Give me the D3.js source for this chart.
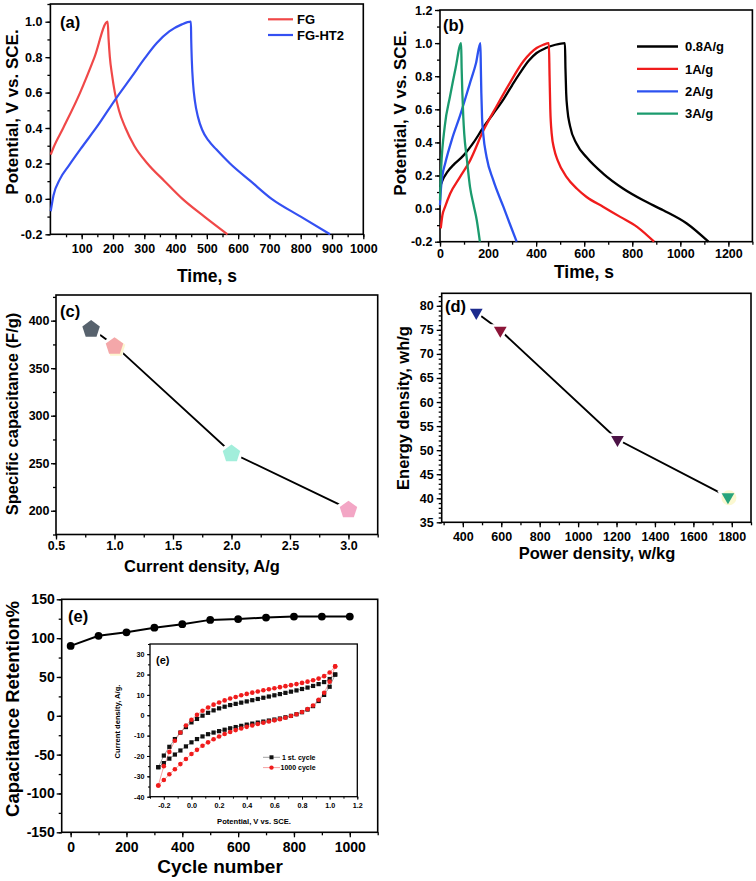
<!DOCTYPE html>
<html><head><meta charset="utf-8">
<script src="https://cdn.jsdelivr.net/npm/d3@7/dist/d3.min.js"></script>
<style>body{margin:0;background:#fff}</style>
</head><body>
<svg id="c" width="756" height="881"></svg>
<script>
// ---------------- DATA ----------------
// (a) charge/discharge, FG and FG-HT2
const aFG_t   = [1, 10, 41, 95, 141, 183, 186, 190, 197, 206, 219, 240, 268, 310, 365, 422, 492, 566];
const aFG_v   = [0.25, 0.29, 0.40, 0.60, 0.80, 1.00, 0.90, 0.80, 0.70, 0.60, 0.50, 0.40, 0.30, 0.20, 0.10, 0.00, -0.10, -0.20];
const aHT2_t  = [1, 10, 30, 60, 100, 150, 209, 260, 300, 340, 380, 420, 449, 450, 452, 456, 462, 472, 485, 505, 530, 574, 640, 707, 800, 894];
const aHT2_v  = [-0.07, 0.02, 0.11, 0.19, 0.29, 0.41, 0.565, 0.69, 0.79, 0.88, 0.945, 0.985, 1.00, 0.90, 0.78, 0.65, 0.55, 0.46, 0.39, 0.33, 0.28, 0.20, 0.10, 0.00, -0.10, -0.20];
const aSeries = ["FG", "FG-HT2"];
// (b) charge/discharge at different current densities
const bSeries = ["0.8A/g", "1A/g", "2A/g", "3A/g"];
const b08_t = [0, 10, 30, 60, 97, 140, 180, 220, 264, 300, 333, 370, 402, 440, 480, 520, 522, 525, 530, 541, 569, 610, 680, 763, 846, 929, 1027, 1117];
const b08_v = [0.13, 0.17, 0.22, 0.27, 0.32, 0.40, 0.49, 0.57, 0.66, 0.745, 0.82, 0.895, 0.94, 0.97, 0.99, 1.00, 0.85, 0.70, 0.60, 0.50, 0.39, 0.31, 0.21, 0.12, 0.05, -0.01, -0.09, -0.20];
const b1_t  = [3, 10, 21, 42, 83, 125, 180, 236, 291, 347, 402, 430, 453, 456, 459, 465, 475, 490, 527, 570, 610, 680, 750, 820, 891];
const b1_v  = [-0.12, -0.04, 0.01, 0.09, 0.19, 0.29, 0.47, 0.62, 0.76, 0.89, 0.97, 0.99, 1.00, 0.80, 0.60, 0.45, 0.36, 0.29, 0.19, 0.12, 0.07, 0.01, -0.05, -0.11, -0.20];
const b2_t  = [0, 4, 10, 21, 50, 83, 125, 150, 168, 170, 172, 175, 180, 194, 222, 264, 290, 319];
const b2_v  = [0.02, 0.12, 0.20, 0.27, 0.42, 0.56, 0.76, 0.88, 1.00, 0.85, 0.70, 0.55, 0.45, 0.31, 0.17, 0.01, -0.09, -0.20];
const b3_t  = [0, 2, 5, 20, 42, 65, 88, 90, 93, 97, 101, 111, 125, 140, 153, 166];
const b3_v  = [0.05, 0.15, 0.25, 0.50, 0.68, 0.85, 1.00, 0.85, 0.70, 0.55, 0.45, 0.31, 0.13, 0.02, -0.07, -0.20];
// (c) specific capacitance
const cCurrent = [0.8, 1.0, 2.0, 3.0];
const cCap     = [392, 374, 261, 202];
// (d) Ragone
const dPower  = [470, 595, 1205, 1780];
const dEnergy = [78.6, 74.9, 52.2, 40.3];
// (e) cycling
const eCycle  = [0, 100, 200, 300, 400, 500, 600, 700, 800, 900, 1000];
const eRet    = [90, 103, 107.5, 113.5, 118, 123.5, 124.5, 126.5, 127.8, 127.8, 127.8];
// (e) inset CV
const insetSeries = ["1 st. cycle", "1000 cycle"];
const cvV = [-0.24,-0.20,-0.16,-0.12,-0.08,-0.04,0.00,0.04,0.08,0.12,0.16,0.20,0.24,0.28,0.32,0.36,0.40,0.44,0.48,0.52,0.56,0.60,0.64,0.68,0.72,0.76,0.80,0.84,0.88,0.92,0.96,1.00,1.04];
const cv1Up   = [-25.5,-19.8,-15.5,-11.7,-8.5,-5.8,-3.5,-1.8,-0.2,1.2,2.4,3.4,4.2,5.0,5.6,6.2,6.8,7.4,8.0,8.6,9.2,9.8,10.4,11.0,11.6,12.2,12.9,13.6,14.4,15.3,16.3,17.8,20.0];
const cv1Down = [-25.5,-23.5,-21.3,-19.3,-17.3,-15.3,-13.3,-11.7,-10.4,-9.3,-8.5,-7.8,-7.1,-6.4,-5.8,-5.2,-4.6,-4.1,-3.6,-3.1,-2.6,-2.1,-1.6,-1.0,-0.3,0.5,1.5,2.8,4.5,7.0,10.0,14.0,20.0];
const cv1000Up   = [-34.5,-25.0,-18.0,-12.5,-8.5,-5.0,-2.2,0.2,2.2,3.8,5.2,6.3,7.3,8.2,9.0,9.8,10.5,11.1,11.7,12.3,12.8,13.3,13.8,14.3,14.8,15.3,15.9,16.5,17.2,18.0,19.2,21.0,24.0];
const cv1000Down = [-34.5,-31.8,-29.0,-26.5,-24.0,-21.5,-19.0,-17.0,-15.0,-13.3,-11.8,-10.4,-9.2,-8.2,-7.3,-6.5,-5.7,-5.0,-4.3,-3.7,-3.1,-2.5,-1.9,-1.2,-0.4,0.5,1.6,3.0,4.8,7.6,11.0,16.5,24.0];

// tick label lists
const aXTicks = [100,200,300,400,500,600,700,800,900,1000];
const aYTicks = [-0.2,0.0,0.2,0.4,0.6,0.8,1.0];
const bXTicks = [0,200,400,600,800,1000,1200];
const bYTicks = [-0.2,0.0,0.2,0.4,0.6,0.8,1.0,1.2];
const cXTicks = [0.5,1.0,1.5,2.0,2.5,3.0];
const cYTicks = [200,250,300,350,400];
const dXTicks = [400,600,800,1000,1200,1400,1600,1800];
const dYTicks = [35,40,45,50,55,60,65,70,75,80];
const eXTicks = [0,200,400,600,800,1000];
const eYTicks = [-150,-100,-50,0,50,100,150];
const iXTicks = [-0.2,0.0,0.2,0.4,0.6,0.8,1.0,1.2];
const iYTicks = [-40,-30,-20,-10,0,10,20,30];

// ---------------- DRAW ----------------
const FONT = '"Liberation Sans", Arial, Helvetica, sans-serif';
const svg = d3.select('#c');
svg.append('rect').attr('width',756).attr('height',881).attr('fill','#fff');

const f1 = d => d.toFixed(1);
const f0 = d => String(d);

function txt(g, x, y, s, size, anchor, rot) {
  const t = g.append('text').attr('x', x).attr('y', y).text(s)
    .attr('font-family', FONT).attr('font-weight', 'bold').attr('font-size', size)
    .attr('fill', '#000').attr('text-anchor', anchor || 'start');
  if (rot) t.attr('transform', `rotate(-90,${x},${y})`);
  return t;
}

function makePanel(p) {
  const x = d3.scaleLinear().domain(p.xd).range([p.l, p.r]);
  const y = d3.scaleLinear().domain(p.yd).range([p.b, p.t]);
  const g = svg.append('g');
  if (p.bg) g.append('rect').attr('x',p.l).attr('y',p.t).attr('width',p.r-p.l).attr('height',p.b-p.t).attr('fill','#fff');
  const ax = (axis, tr) => {
    const s = g.append('g').attr('transform', tr).call(axis);
    s.select('.domain').remove();
    s.selectAll('line').attr('stroke', '#000').attr('stroke-width', p.tw || 1.3);
    s.selectAll('text').attr('font-size', p.fs).attr('font-family', FONT).attr('font-weight', 'bold').attr('fill', '#000');
    return s;
  };
  const mj = p.major || 5, mn = p.minor || 3;
  ax(d3.axisBottom(x).tickValues(p.xMinor).tickSize(mn).tickFormat(''), `translate(0,${p.b})`);
  ax(d3.axisBottom(x).tickValues(p.xTicks).tickSize(mj).tickPadding(p.xpad).tickFormat(p.xf), `translate(0,${p.b})`);
  ax(d3.axisLeft(y).tickValues(p.yMinor).tickSize(mn).tickFormat(''), `translate(${p.l},0)`);
  ax(d3.axisLeft(y).tickValues(p.yTicks).tickSize(mj).tickPadding(p.ypad).tickFormat(p.yf), `translate(${p.l},0)`);
  g.append('rect').attr('x', p.l).attr('y', p.t).attr('width', p.r - p.l).attr('height', p.b - p.t)
    .attr('fill', 'none').attr('stroke', '#000').attr('stroke-width', p.fw || 1.6);
  return { x, y, g };
}

function curve(P, ts, vs, color, w) {
  const pts = ts.map((t, i) => [P.x(t), P.y(vs[i])]);
  P.g.append('path').attr('d', d3.line().curve(d3.curveMonotoneX)(pts))
    .attr('fill', 'none').attr('stroke', color).attr('stroke-width', w).attr('stroke-linejoin', 'round');
}

// ---- panel (a)
const A = makePanel({ l: 50.4, r: 363.3, t: 4, b: 234.3, xd: [0, 1000], yd: [-0.2, 1.1],
  xTicks: aXTicks, xMinor: d3.range(50, 1001, 50), yTicks: aYTicks, yMinor: d3.range(-0.2, 1.101, 0.1),
  xf: f0, yf: f1, fs: 12.5, xpad: 5, ypad: 3 });
const aColors = ['#f04848', '#3450f2'];
curve(A, aFG_t, aFG_v, aColors[0], 2.2);
curve(A, aHT2_t, aHT2_v, aColors[1], 2.2);
aSeries.forEach((s, i) => {
  const yy = 19.3 + i * 15.7;
  A.g.append('line').attr('x1', 268).attr('x2', 293).attr('y1', yy).attr('y2', yy).attr('stroke', aColors[i]).attr('stroke-width', 2.2);
  txt(A.g, 297, yy + 4.6, s, 13);
});
txt(A.g, 60, 27.5, '(a)', 16.5);
txt(A.g, 207, 282, 'Time, s', 17.5, 'middle');
txt(A.g, 18, 112, 'Potential, V vs. SCE.', 17, 'middle', true);

// ---- panel (b)
const B = makePanel({ l: 440, r: 752.4, t: 10, b: 241.7, xd: [0, 1300], yd: [-0.2, 1.2],
  xTicks: bXTicks, xMinor: d3.range(0, 1301, 100), yTicks: bYTicks, yMinor: d3.range(-0.2, 1.201, 0.1),
  xf: f0, yf: f1, fs: 12.5, xpad: 2, ypad: 2.5 });
const bColors = ['#000000', '#f01c1c', '#2c52f0', '#1b9b6e'];
curve(B, b08_t, b08_v, bColors[0], 2.3);
curve(B, b1_t, b1_v, bColors[1], 2.3);
curve(B, b2_t, b2_v, bColors[2], 2.3);
curve(B, b3_t, b3_v, bColors[3], 2.3);
bSeries.forEach((s, i) => {
  const yy = 46.5 + i * 22.4;
  B.g.append('line').attr('x1', 637).attr('x2', 678).attr('y1', yy).attr('y2', yy).attr('stroke', bColors[i]).attr('stroke-width', 2.3);
  txt(B.g, 685, yy + 4.6, s, 13);
});
txt(B.g, 443, 31, '(b)', 16.5);
txt(B.g, 584, 278, 'Time, s', 17.5, 'middle');
txt(B.g, 406, 113, 'Potential, V vs. SCE.', 17, 'middle', true);

// ---- panel (c)
const C = makePanel({ l: 56, r: 377.7, t: 295, b: 534.5, xd: [0.5, 3.25], yd: [175, 427],
  xTicks: cXTicks, xMinor: d3.range(0.5, 3.26, 0.25), yTicks: cYTicks, yMinor: d3.range(175, 426, 25),
  xf: f1, yf: f0, fs: 12.5, xpad: 2, ypad: 1.5 });
C.g.append('path').attr('d', d3.line()(cCurrent.map((v, i) => [C.x(v), C.y(cCap[i])])))
  .attr('fill', 'none').attr('stroke', '#000').attr('stroke-width', 1.9);
const cColors = ['#57626d', '#f4a7a9', '#a2eedb', '#f3a6c5'];
function pentagon(cx, cy, r) {
  return d3.range(5).map(k => {
    const a = -Math.PI / 2 + k * 2 * Math.PI / 5;
    return [cx + r * Math.cos(a), cy + r * Math.sin(a)];
  });
}
cCurrent.forEach((v, i) => {
  const cx = C.x(v), cy = C.y(cCap[i]);
  C.g.append('polygon').attr('points', pentagon(cx, cy + 1, 9.2).join(' ')).attr('fill', '#fff').attr('stroke', '#fff').attr('stroke-width', 6);
  if (i === 1) C.g.append('polygon').attr('points', pentagon(cx + 1.5, cy + 2.5, 9.8).join(' ')).attr('fill', '#fdf6cf');
  C.g.append('polygon').attr('points', pentagon(cx, cy + 1, 9.2).join(' ')).attr('fill', cColors[i]);
});
txt(C.g, 60, 317, '(c)', 16.5);
txt(C.g, 202, 572, 'Current density, A/g', 16.5, 'middle');
txt(C.g, 18, 414, 'Specific capacitance (F/g)', 16.5, 'middle', true);

// ---- panel (d)
const D = makePanel({ l: 441.7, r: 751, t: 293.3, b: 522.3, xd: [290, 1900], yd: [35, 82.6],
  xTicks: dXTicks, xMinor: d3.range(300, 1901, 100), yTicks: dYTicks, yMinor: d3.range(35, 83, 1),
  xf: f0, yf: f0, fs: 12.5, xpad: 5, ypad: 3 });
D.g.append('path').attr('d', d3.line()(dPower.map((v, i) => [D.x(v), D.y(dEnergy[i])])))
  .attr('fill', 'none').attr('stroke', '#000').attr('stroke-width', 1.9);
const dColors = ['#1c2b8e', '#8c1538', '#4c1346', '#27a47b'];
const tri = d3.symbol(d3.symbolTriangle, 70);
dPower.forEach((v, i) => {
  const cx = D.x(v), cy = D.y(dEnergy[i]);
  D.g.append('path').attr('d', tri()).attr('transform', `translate(${cx},${cy}) rotate(180)`).attr('fill', '#fff').attr('stroke', '#fff').attr('stroke-width', 5);
  if (i === 3) D.g.append('circle').attr('cx', cx + 1).attr('cy', cy + 1).attr('r', 7.5).attr('fill', '#fbf8d0');
  D.g.append('path').attr('d', tri()).attr('transform', `translate(${cx},${cy}) rotate(180)`).attr('fill', dColors[i]);
});
txt(D.g, 445, 312, '(d)', 16.5);
txt(D.g, 597, 559, 'Power density, w/kg', 16.5, 'middle');
txt(D.g, 409, 408, 'Energy density, wh/g', 16.5, 'middle', true);

// ---- panel (e)
const E = makePanel({ l: 61.7, r: 377.7, t: 599.3, b: 832.3, xd: [-32, 1100], yd: [-150, 150],
  xTicks: eXTicks, xMinor: d3.range(0, 1101, 100), yTicks: eYTicks, yMinor: d3.range(-150, 151, 25),
  xf: f0, yf: f0, fs: 14, xpad: 4.5, ypad: 2 });
E.g.append('path').attr('d', d3.line()(eCycle.map((v, i) => [E.x(v), E.y(eRet[i])])))
  .attr('fill', 'none').attr('stroke', '#000').attr('stroke-width', 2);
E.g.selectAll('circle.e').data(eCycle).enter().append('circle')
  .attr('cx', d => E.x(d)).attr('cy', (d, i) => E.y(eRet[i])).attr('r', 3.9).attr('fill', '#000');
txt(E.g, 68, 622, '(e)', 16.5);
txt(E.g, 220, 873, 'Cycle number', 19, 'middle');
txt(E.g, 19, 709, 'Capacitance Retention%', 18.5, 'middle', true);

// ---- inset
const I = makePanel({ l: 150, r: 357.3, t: 644, b: 796.7, xd: [-0.3, 1.2], yd: [-40, 35], bg: true,
  xTicks: iXTicks, xMinor: d3.range(-0.3, 1.201, 0.1), yTicks: iYTicks, yMinor: d3.range(-40, 35.1, 5),
  xf: f1, yf: f0, fs: 7.2, xpad: 3, ypad: 2.5, major: 3, minor: 2, tw: 1, fw: 1.3 });
function cvPath(up, down, color) {
  const pts = cvV.map((v, i) => [I.x(v), I.y(up[i])]).concat(cvV.map((v, i) => [I.x(v), I.y(down[i])]).reverse());
  I.g.append('path').attr('d', d3.line()(pts)).attr('fill', 'none').attr('stroke', color).attr('stroke-width', 0.8);
}
cvPath(cv1Up, cv1Down, '#8a8a8a');
cvPath(cv1000Up, cv1000Down, '#f48a8a');
[cv1Up, cv1Down].forEach(arr => cvV.forEach((v, i) => {
  I.g.append('rect').attr('x', I.x(v) - 2.1).attr('y', I.y(arr[i]) - 2.1).attr('width', 4.2).attr('height', 4.2).attr('fill', '#111');
}));
[cv1000Up, cv1000Down].forEach(arr => cvV.forEach((v, i) => {
  I.g.append('circle').attr('cx', I.x(v)).attr('cy', I.y(arr[i])).attr('r', 2.3).attr('fill', '#f01c1c');
}));
// inset legend
insetSeries.forEach((s, i) => {
  const yy = 757.3 + i * 10.3;
  I.g.append('line').attr('x1', 263).attr('x2', 280).attr('y1', yy).attr('y2', yy).attr('stroke', i ? '#f48a8a' : '#8a8a8a').attr('stroke-width', 0.8);
  if (i === 0) I.g.append('rect').attr('x', 271.5 - 2).attr('y', yy - 2).attr('width', 4).attr('height', 4).attr('fill', '#111');
  else I.g.append('circle').attr('cx', 271.5).attr('cy', yy).attr('r', 2.2).attr('fill', '#f01c1c');
  txt(I.g, i ? 280.5 : 282, yy + 2.6, s, 7);
});
txt(I.g, 156, 664, '(e)', 11);
txt(I.g, 254, 823.5, 'Potential, V vs. SCE.', 7.6, 'middle');
txt(I.g, 119.5, 721.5, 'Current density, A/g.', 7.6, 'middle', true);
</script>
</body></html>
